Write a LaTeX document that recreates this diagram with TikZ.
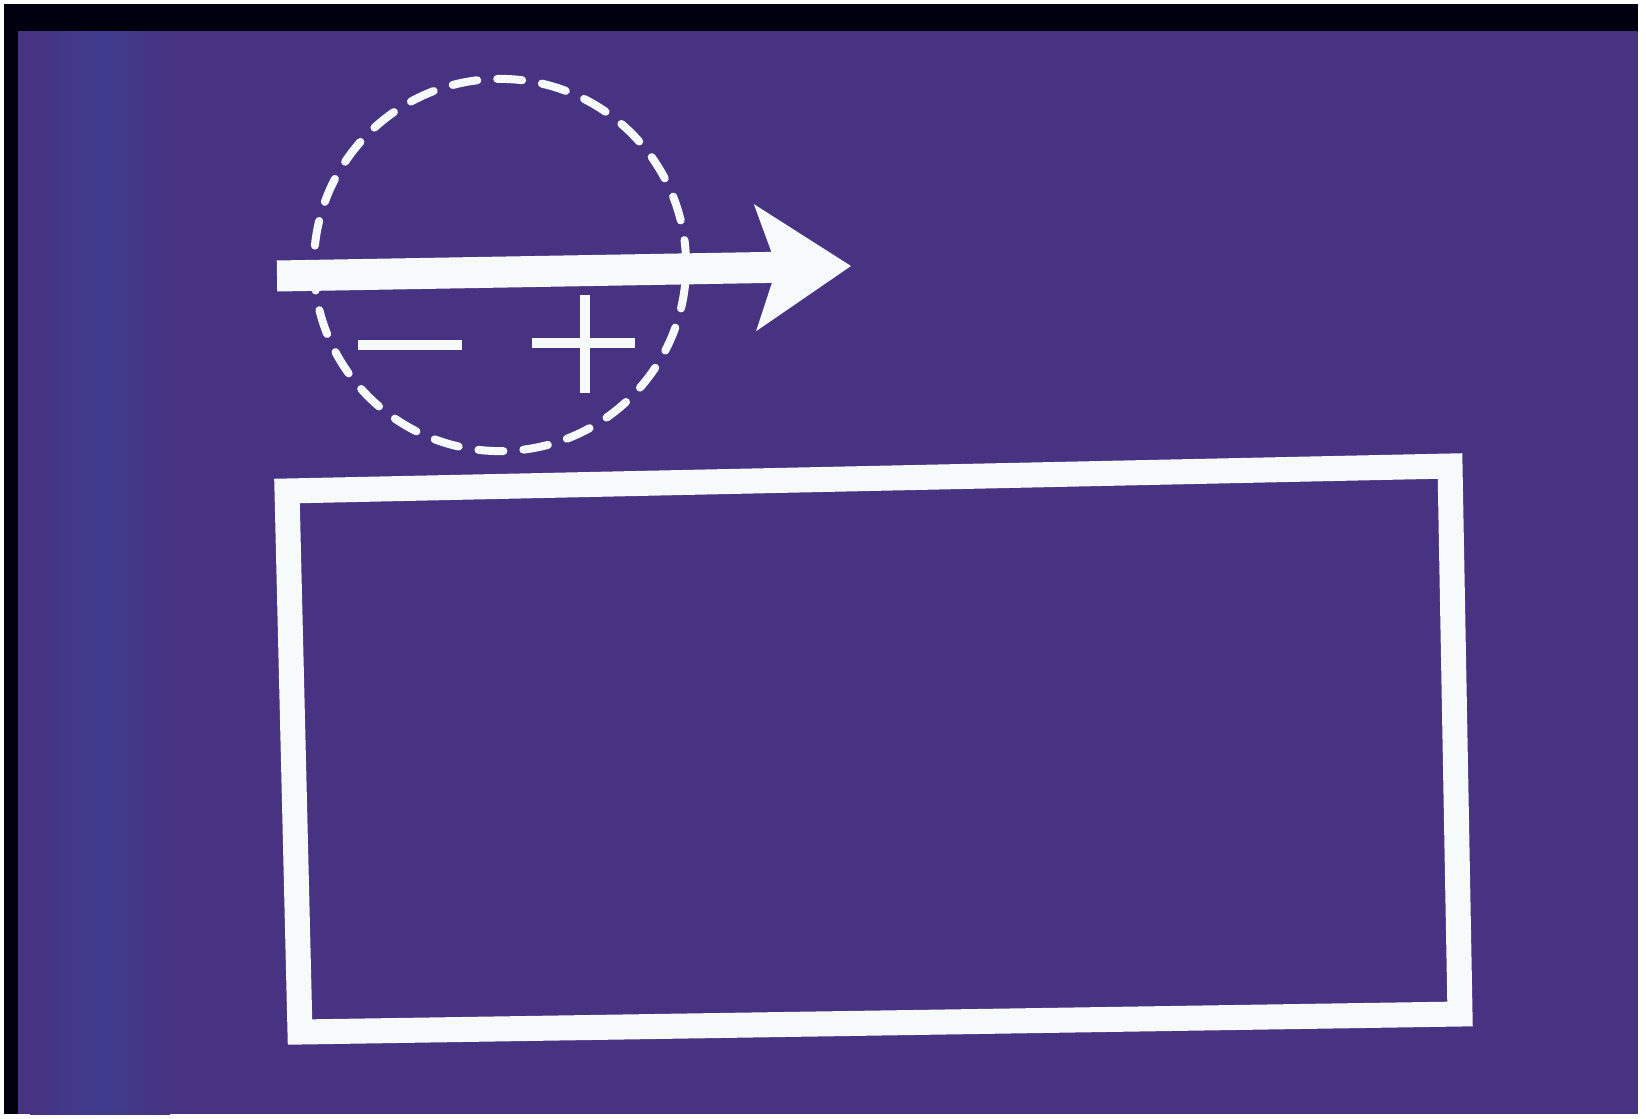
\documentclass[tikz,border=0pt]{standalone}
\usepackage{xcolor}
\usetikzlibrary{arrows.meta, calc}
\definecolor{slide}{RGB}{71,51,129}
\definecolor{slideblue}{RGB}{63,60,142}
\definecolor{chalk}{RGB}{246,250,250}
\tikzset{
  frame/.style ={fill=black!94!blue},
  orbit/.style ={draw=chalk, line width=0.08cm, line cap=round,
                 dash pattern=on 0.25cm off 0.2cm},
  beam/.style  ={draw=chalk, line width=0.31cm,
                 -{Stealth[length=0.96cm, width=1.27cm, inset=0.22cm, line width=0pt]}},
  sign/.style  ={draw=chalk, line width=0.095cm},
  plate/.style ={draw=chalk, line width=0.25cm, line join=miter}
}

\begin{document}
\begin{tikzpicture}[x=0.01cm, y=-0.01cm]
\useasboundingbox (0,0) rectangle (1646,1118);
\fill[white] (0,0) rectangle (1646,1118);

% slide background
\fill[frame] (4,4) rectangle (1638,1114);
\fill[slide] (18,31) rectangle (1638,1114);
\shade[left color=slide, right color=slide, middle color=slideblue]
  (30,31) rectangle (170,1114);

% charge with its field
\coordinate (core) at (500,265);
\draw[orbit] (core) circle[radius=1.86cm];
\draw[sign] (358,345) -- (462,345);
\draw[sign] (532,343) -- (635,343);
\draw[sign] (585,295) -- (585,393);

\coordinate (tail) at (277,276);
\coordinate (tip) at (851,266);
\draw[beam] (tail) -- (tip);

% plate
\coordinate (p1) at (287,491);
\coordinate (p2) at (1450,466);
\coordinate (p3) at (1460,1014);
\coordinate (p4) at (300,1032);
\draw[plate] (p1) -- (p2) -- (p3) -- (p4) -- cycle;

\end{tikzpicture}
\end{document}
